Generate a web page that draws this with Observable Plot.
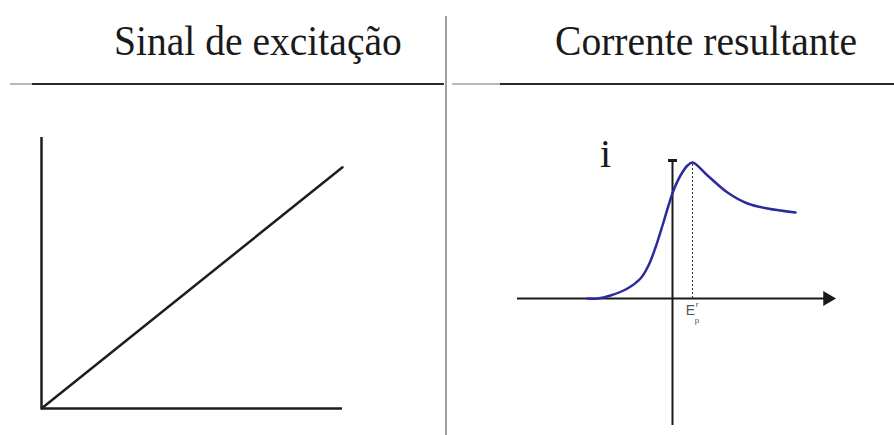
<!DOCTYPE html>
<html>
<head>
<meta charset="utf-8">
<script src="https://cdn.jsdelivr.net/npm/d3@7"></script>
<script src="https://cdn.jsdelivr.net/npm/@observablehq/plot@0.6"></script>
<style>
  html, body { margin: 0; padding: 0; background: #fff; }
  #page { position: relative; width: 894px; height: 435px; overflow: hidden; background: #fff; }
  .head { position: absolute; top: 15px; font-family: "Liberation Serif", "Times New Roman", serif;
          font-size: 43px; line-height: 52px; color: #1a1a1a; white-space: nowrap;
          transform: scaleX(0.92); transform-origin: left top; }
  .rule { position: absolute; height: 2px; background: #2a2a2a; top: 83px; }
  .rule.soft { background: #b8b8b8; }
  .sep { position: absolute; left: 445px; top: 16px; width: 2px; height: 419px; background: #a0a0a0; }
  .panel { position: absolute; }
</style>
</head>
<body>
<div id="page"></div>
<script>
// Column headers
const headers = ["Sinal de excitação", "Corrente resultante"];

// Excitation signal: a linear potential ramp E(t)
const rampTime = [0, 10];
const rampPotential = [0, 8.9];

// Resulting current i(E): a voltammetric peak at E_p
const currentE = [-0.85, -0.75, -0.62, -0.45, -0.32, -0.24, -0.17, -0.10, -0.04, 0.01, 0.08, 0.15, 0.20, 0.35, 0.55, 0.75, 0.95, 1.23];
const currentI = [0, 0, 0.03, 0.10, 0.20, 0.33, 0.51, 0.73, 0.93, 1.08, 1.23, 1.33, 1.36, 1.23, 1.06, 0.95, 0.90, 0.86];
const peakE = 0.20;
const peakI = 1.36;

const page = document.getElementById("page");

// Header text and rules
const headLeft = document.createElement("div");
headLeft.className = "head"; headLeft.style.left = "114px"; headLeft.textContent = headers[0];
const headRight = document.createElement("div");
headRight.className = "head"; headRight.style.left = "555px"; headRight.textContent = headers[1];
page.append(headLeft, headRight);

for (const [cls, l, w] of [["rule soft", 10, 24], ["rule", 32, 412], ["rule soft", 452, 48], ["rule", 500, 394]]) {
  const d = document.createElement("div");
  d.className = cls; d.style.left = l + "px"; d.style.width = w + "px";
  page.append(d);
}
const sep = document.createElement("div");
sep.className = "sep";
page.append(sep);

// Left panel: excitation ramp
const ramp = rampTime.map((t, i) => ({t, e: rampPotential[i]}));
const left = Plot.plot({
  width: 380, height: 300,
  marginLeft: 41, marginRight: 38, marginTop: 17, marginBottom: 12,
  x: {domain: [0, 10], axis: null},
  y: {domain: [0, 10], axis: null},
  marks: [
    Plot.ruleX([0], {y1: 0, y2: 10, stroke: "#1e1e1e", strokeWidth: 2.5}),
    Plot.ruleY([0], {x1: 0, x2: 10, stroke: "#1e1e1e", strokeWidth: 2.5}),
    Plot.line(ramp, {x: "t", y: "e", stroke: "#1e1e1e", strokeWidth: 2.5})
  ]
});
left.classList.add("panel");
left.style.left = "0px"; left.style.top = "120px";
page.append(left);

// Right panel: current response
const curve = currentE.map((e, i) => ({e, i: currentI[i]}));
const right = Plot.plot({
  width: 439, height: 315,
  marginLeft: 62, marginRight: 61, marginTop: 40, marginBottom: 10,
  x: {domain: [-1.55, 1.61], axis: null},
  y: {domain: [-1.27, 1.38], axis: null},
  marks: [
    Plot.ruleY([0], {x1: -1.55, x2: 1.55, stroke: "#1a1a1a", strokeWidth: 2}),
    Plot.dot([{e: 1.55, i: 0}], {x: "e", y: "i", symbol: "triangle", rotate: 90, r: 5.5, fill: "#1a1a1a", stroke: "none"}),
    Plot.ruleX([0], {y1: -1.27, y2: 1.38, stroke: "#1a1a1a", strokeWidth: 2}),
    Plot.link([{a: -0.045, b: 0.045}], {x1: "a", x2: "b", y1: 1.38, y2: 1.38, stroke: "#1a1a1a", strokeWidth: 3}),
    Plot.ruleX([peakE], {y1: 0, y2: peakI, stroke: "#333", strokeWidth: 1, strokeDasharray: "2,2"}),
    Plot.line(curve, {x: "e", y: "i", curve: "catmull-rom", stroke: "#2b2b9e", strokeWidth: 2.5}),
    Plot.text(["i"], {x: -0.67, y: 1.44, fontFamily: "Liberation Serif", fontSize: 40, fill: "#1a1a1a"}),
    Plot.text(["E"], {x: 0.18, y: -0.125, fontFamily: "Liberation Sans", fontSize: 14, fill: "#555"}),
    Plot.text(["r"], {x: 0.245, y: -0.055, fontFamily: "Liberation Sans", fontSize: 8, fill: "#555"}),
    Plot.text(["p"], {x: 0.245, y: -0.215, fontFamily: "Liberation Sans", fontSize: 8, fill: "#555"})
  ]
});
right.classList.add("panel");
right.style.left = "455px"; right.style.top = "120px";
page.append(right);
</script>
</body>
</html>
